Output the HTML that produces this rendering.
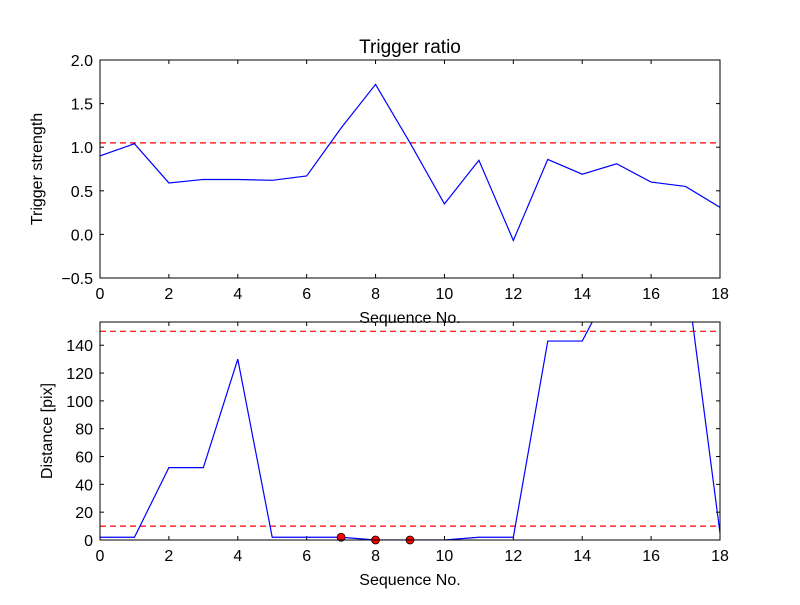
<!DOCTYPE html>
<html><head><meta charset="utf-8"><style>
body{margin:0;background:#fff}
svg text{font-family:"Liberation Sans","DejaVu Sans",sans-serif;fill:#000}
</style></head><body>
<svg id="fig" width="800" height="600" viewBox="0 0 800 600">
<rect width="800" height="600" fill="#fff"/>
<defs>
<clipPath id="c1"><rect x="100" y="60" width="620" height="218"/></clipPath>
<clipPath id="c2"><rect x="100" y="322" width="620" height="218"/></clipPath>
</defs>
<g id="top"></g>
<g id="bot"></g>
</svg>
<script>
const seqX = [0,1,2,3,4,5,6,7,8,9,10,11,12,13,14,15,16,17,18];
const triggerStrength = [0.9,1.04,0.59,0.63,0.63,0.62,0.67,1.22,1.72,1.05,0.35,0.85,-0.07,0.86,0.69,0.81,0.6,0.55,0.31];
const triggerThreshold = [1.05];
const distance = [2,2,52,52,130,2,2,2,0,0,0,2,2,143,143,190,200,195,5];
const distanceThresholds = [150,10];
const markerX = [7,8,9];
const markerY = [2,0,0];
const xTicks = [0,2,4,6,8,10,12,14,16,18];
const topYTicks = [-0.5,0.0,0.5,1.0,1.5,2.0];
const botYTicks = [0,20,40,60,80,100,120,140];
const NS="http://www.w3.org/2000/svg";
function mk(parent,tag,attrs,text){const e=document.createElementNS(NS,tag);for(const k in attrs)e.setAttribute(k,attrs[k]);if(text!==undefined)e.textContent=text;parent.appendChild(e);return e;}
function panel(g,top,bottom,ymin,ymax,yTicks,fmt,clip){
  const L=100,R=720;
  const sx=v=>L+(v-0)/(18-0)*(R-L);
  const sy=v=>bottom-(v-ymin)/(ymax-ymin)*(bottom-top);
  xTicks.forEach(t=>{const x=sx(t);
    const a=mk(g,'line',{x1:x,x2:x,y1:bottom,y2:bottom-4,stroke:'#000'});
    
    mk(g,'line',{x1:x,x2:x,y1:top,y2:top+4,stroke:'#000'});
    const l=mk(g,'text',{x:x,y:bottom+21,'font-size':16,'text-anchor':'middle'},String(t));
    });
  yTicks.forEach(t=>{const y=sy(t);
    mk(g,'line',{x1:L,x2:L+4,y1:y,y2:y,stroke:'#000'});
    mk(g,'line',{x1:R,x2:R-4,y1:y,y2:y,stroke:'#000'});
    const l=mk(g,'text',{x:L-7,y:y+6,'font-size':16,'text-anchor':'end'},fmt(t));
    });
  return {sx,sy};
}
// top
const gt=document.getElementById('top');
const A=panel(gt,60,278,-0.5,2.0,topYTicks,v=>(v<0?'\u22120.5':v.toFixed(1)),'c1');
triggerThreshold.forEach(v=>{const l=mk(gt,'line',{x1:100,x2:720,y1:A.sy(v),y2:A.sy(v),stroke:'#f00','stroke-dasharray':'6,4','stroke-width':1.2});
});
let p=mk(gt,'polyline',{points:seqX.map((x,i)=>A.sx(x)+','+A.sy(triggerStrength[i])).join(' '),fill:'none',stroke:'#00f','stroke-width':1.2,'clip-path':'url(#c1)'});

mk(gt,'rect',{x:100,y:60,width:620,height:218,fill:'none',stroke:'#000'});
let t=mk(gt,'text',{x:410,y:53,'font-size':19,'text-anchor':'middle'},'Trigger ratio');

t=mk(gt,'text',{x:410,y:323,'font-size':16,'text-anchor':'middle'},'Sequence No.');

t=mk(gt,'text',{x:0,y:0,'font-size':16,'text-anchor':'middle',transform:'translate(42,169) rotate(-90)'},'Trigger strength');

// bottom
const gb=document.getElementById('bot');
const B=panel(gb,322,540,0,156.7,botYTicks,v=>String(v),'c2');
distanceThresholds.forEach(v=>{const l=mk(gb,'line',{x1:100,x2:720,y1:B.sy(v),y2:B.sy(v),stroke:'#f00','stroke-dasharray':'6,4','stroke-width':1.2});
});
p=mk(gb,'polyline',{points:seqX.map((x,i)=>B.sx(x)+','+B.sy(distance[i])).join(' '),fill:'none',stroke:'#00f','stroke-width':1.2,'clip-path':'url(#c2)'});

markerX.forEach((x,i)=>{const c=mk(gb,'circle',{cx:B.sx(x),cy:B.sy(markerY[i]),r:4,fill:'#f00',stroke:'#000','stroke-width':0.8});
});
mk(gb,'rect',{x:100,y:322,width:620,height:218,fill:'none',stroke:'#000'});
t=mk(gb,'text',{x:410,y:585,'font-size':16,'text-anchor':'middle'},'Sequence No.');

t=mk(gb,'text',{x:0,y:0,'font-size':16,'text-anchor':'middle',transform:'translate(52,431) rotate(-90)'},'Distance [pix]');

</script>
</body></html>
